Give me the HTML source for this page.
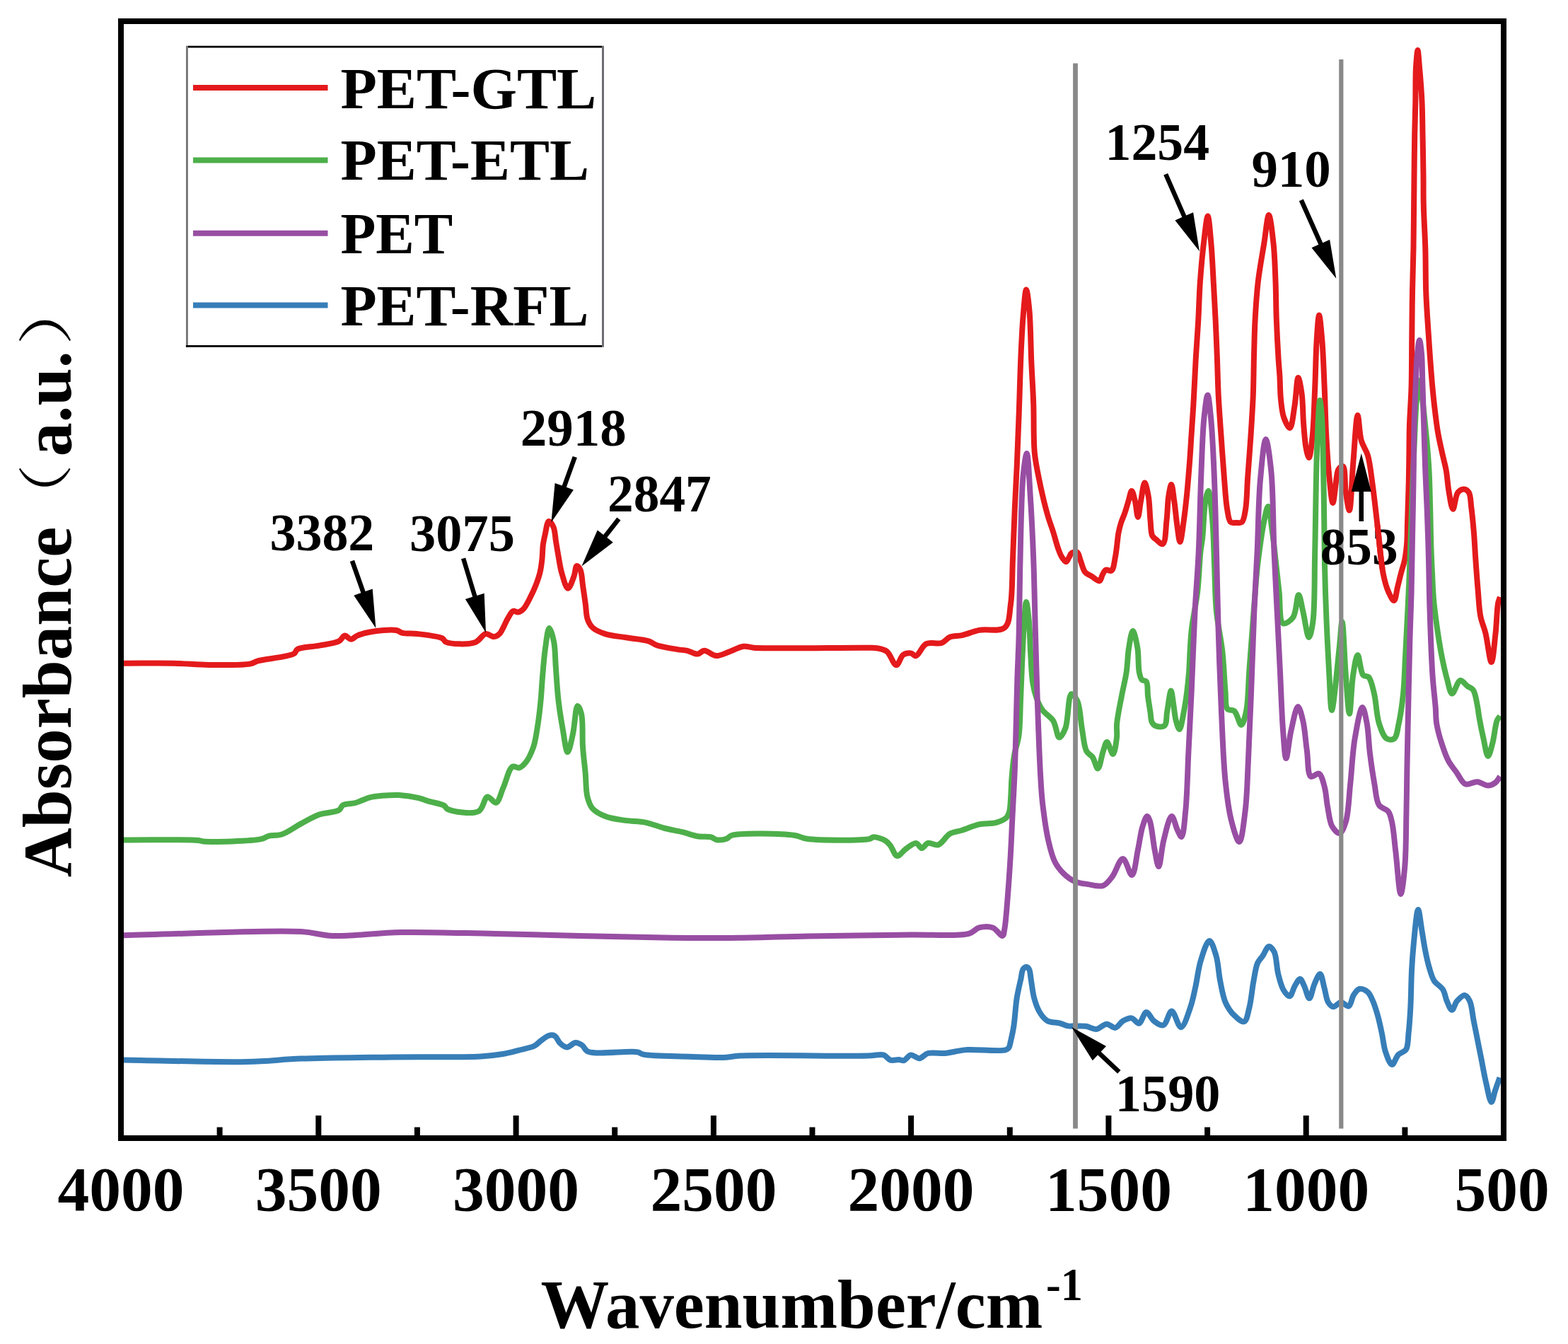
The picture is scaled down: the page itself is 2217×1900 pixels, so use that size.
<!DOCTYPE html>
<html><head><meta charset="utf-8"><title>FTIR spectra</title>
<style>html,body{margin:0;padding:0;background:#fff;}svg{display:block;}</style></head>
<body>
<svg width="2217" height="1900" viewBox="0 0 2217 1900">
<rect width="2217" height="1900" fill="#fff"/>
<path d="M175.0,937.7 C198.9,937.7 225.1,937.2 246.7,937.7 C264.5,938.1 278.3,939.8 295.3,940.0 C314.0,940.2 342.8,940.6 354.2,938.3 C359.1,937.3 359.6,935.8 364.4,934.4 C374.9,931.4 407.7,929.0 415.6,924.2 C418.7,922.3 417.8,919.5 420.7,917.8 C426.4,914.5 441.4,914.7 451.4,912.7 C461.0,910.8 473.3,909.7 479.5,906.3 C483.3,904.2 484.4,899.0 487.2,898.6 C490.0,898.2 493.2,903.7 496.2,903.7 C499.2,903.7 501.5,900.1 505.1,898.6 C509.9,896.6 515.9,894.7 523.0,893.5 C533.1,891.7 552.0,889.6 560.1,891.0 C564.2,891.7 565.4,893.9 569.1,894.8 C574.4,896.0 581.8,895.1 589.5,896.0 C599.8,897.2 619.1,899.1 625.4,902.4 C628.2,903.9 627.6,906.4 630.5,907.6 C637.4,910.6 661.4,911.7 671.4,908.3 C678.3,905.9 682.0,896.7 686.8,896.0 C690.4,895.5 694.5,899.6 697.0,900.0 C698.4,900.2 699.2,900.2 700.5,899.8 C702.3,899.2 704.3,898.2 706.3,896.1 C710.1,892.0 714.5,880.1 718.1,874.2 C720.7,870.0 722.6,865.0 725.4,863.9 C727.6,863.0 730.3,865.8 732.7,865.4 C735.2,865.0 737.7,863.4 740.0,861.0 C743.6,857.3 747.3,849.2 750.3,843.4 C753.1,838.0 755.4,832.8 757.6,827.3 C759.8,821.6 761.9,815.8 763.4,809.8 C764.9,803.6 765.7,797.2 766.4,790.7 C767.2,784.0 767.0,776.5 767.8,770.3 C768.5,765.0 769.5,760.8 770.7,755.6 C772.1,749.7 773.4,737.5 775.9,737.0 C777.7,736.6 780.9,741.4 782.5,745.0 C784.8,750.1 784.9,758.9 786.1,765.9 C787.3,773.1 788.5,780.5 789.8,787.8 C791.2,795.1 792.0,802.6 794.2,809.8 C796.4,817.2 799.9,831.6 803.0,831.7 C805.8,831.8 809.6,819.8 811.7,814.2 C813.5,809.3 813.5,800.5 815.4,800.0 C816.8,799.7 819.2,802.7 820.5,805.4 C822.9,810.3 823.0,820.9 824.2,828.8 C825.4,837.0 826.7,845.7 827.8,853.7 C828.9,861.2 828.6,869.6 830.8,875.6 C832.5,880.4 834.5,884.1 838.1,887.4 C842.3,891.3 848.8,893.9 855.6,896.1 C863.9,898.9 874.9,899.6 884.9,901.3 C895.4,903.1 909.2,903.9 917.1,906.4 C922.1,908.0 923.9,910.5 928.8,912.2 C936.2,914.7 950.2,916.8 958.1,918.1 C963.5,919.0 967.1,918.8 971.7,919.8 C976.5,920.9 981.9,924.9 986.2,924.6 C989.8,924.3 992.1,919.9 995.8,919.8 C1000.6,919.7 1006.8,926.8 1012.7,927.1 C1018.9,927.4 1025.6,923.2 1032.0,921.0 C1038.5,918.8 1045.3,914.5 1051.4,913.8 C1056.5,913.2 1058.4,915.2 1065.8,915.7 C1090.6,917.3 1204.3,915.2 1227.5,915.7 C1233.8,915.8 1235.4,915.4 1239.6,916.2 C1244.2,917.1 1249.7,917.8 1254.0,921.0 C1259.3,925.0 1263.2,940.3 1267.3,940.3 C1270.8,940.3 1273.1,928.5 1277.0,925.8 C1280.1,923.6 1284.6,923.0 1287.8,923.4 C1290.5,923.7 1292.5,927.6 1295.1,927.1 C1299.4,926.2 1303.5,913.2 1309.6,910.2 C1315.6,907.2 1325.4,911.1 1331.3,909.0 C1336.2,907.3 1338.7,902.3 1343.3,900.5 C1348.2,898.5 1354.1,899.4 1360.2,898.1 C1367.6,896.5 1375.4,892.7 1384.4,890.9 C1395.2,888.8 1413.2,893.6 1420.6,887.2 C1427.8,881.0 1427.1,867.1 1429.0,854.1 C1431.6,836.3 1431.0,811.8 1432.0,789.7 C1433.0,766.1 1433.9,739.6 1434.9,716.6 C1435.8,696.0 1436.9,678.6 1437.8,658.0 C1438.8,635.0 1439.8,610.4 1440.7,584.9 C1441.7,557.0 1442.5,522.2 1443.7,497.1 C1444.6,478.2 1445.3,462.7 1446.6,447.3 C1447.8,433.8 1449.4,409.5 1451.0,409.5 C1452.4,409.5 1454.3,426.6 1455.4,438.5 C1457.2,457.3 1457.3,488.7 1458.3,511.7 C1459.2,532.3 1460.5,549.8 1461.2,570.2 C1462.0,592.4 1461.0,621.0 1462.8,640.0 C1464.1,653.3 1466.2,662.6 1468.4,673.8 C1470.6,685.1 1473.3,697.2 1475.8,707.6 C1478.0,716.5 1480.1,724.6 1482.5,732.4 C1484.7,739.5 1487.1,745.7 1489.3,752.6 C1491.6,759.9 1493.8,768.8 1496.0,775.1 C1497.7,779.7 1498.9,783.7 1501.0,787.0 C1502.8,789.9 1505.5,794.4 1507.3,794.3 C1508.9,794.2 1510.2,790.1 1511.5,788.0 C1512.8,786.0 1513.4,783.1 1515.2,781.9 C1517.2,780.6 1521.1,779.6 1523.1,780.8 C1525.6,782.2 1526.0,787.9 1527.6,792.0 C1529.6,797.1 1531.1,805.1 1534.3,808.9 C1536.7,811.8 1540.1,812.6 1543.3,814.6 C1546.8,816.8 1552.0,822.1 1554.6,821.3 C1556.9,820.6 1557.4,814.7 1559.0,812.0 C1560.4,809.6 1561.5,806.5 1563.6,805.6 C1565.7,804.7 1569.4,808.1 1571.5,806.7 C1574.9,804.5 1575.5,794.1 1577.1,786.4 C1579.1,776.6 1579.9,761.3 1581.6,752.6 C1582.7,747.0 1583.6,743.6 1585.0,739.1 C1586.5,734.3 1588.9,729.5 1590.6,724.5 C1592.4,719.3 1593.8,713.8 1595.4,708.6 C1597.0,703.6 1598.5,694.0 1600.1,694.0 C1601.7,694.0 1603.5,703.2 1604.9,708.6 C1606.6,715.2 1607.6,731.0 1608.9,731.0 C1610.3,731.0 1611.5,716.3 1613.0,708.6 C1614.6,700.2 1616.5,682.6 1618.4,682.5 C1620.1,682.4 1622.5,694.5 1623.8,701.9 C1625.5,711.5 1625.5,725.7 1626.5,735.7 C1627.3,743.7 1627.0,752.7 1629.2,757.3 C1630.5,760.0 1632.4,760.9 1634.6,762.7 C1637.2,764.9 1641.7,770.0 1644.1,769.0 C1648.2,767.2 1648.2,746.9 1649.5,735.7 C1650.9,724.5 1650.7,711.2 1652.2,701.9 C1653.2,695.3 1654.9,685.0 1656.2,685.0 C1657.7,685.0 1659.0,700.0 1660.3,708.6 C1661.8,718.8 1662.8,732.2 1664.3,742.4 C1665.6,751.0 1666.9,766.0 1668.4,766.0 C1670.1,766.0 1672.3,746.1 1673.8,735.7 C1675.4,724.8 1676.5,714.1 1677.8,701.9 C1679.3,687.5 1680.7,669.8 1681.9,654.6 C1683.0,640.6 1683.7,627.6 1684.6,614.1 C1685.5,600.6 1686.4,588.7 1687.3,573.5 C1688.5,553.8 1689.6,527.2 1690.8,506.0 C1691.9,487.0 1693.3,470.0 1694.3,452.0 C1695.3,434.0 1695.6,416.0 1696.9,398.0 C1698.2,380.0 1699.9,360.5 1701.9,344.0 C1703.6,330.1 1705.9,305.5 1707.7,305.5 C1709.4,305.5 1711.1,330.1 1712.4,344.0 C1713.9,360.5 1714.7,380.0 1715.7,398.0 C1716.7,416.0 1717.7,434.3 1718.6,452.0 C1719.4,469.2 1720.1,485.6 1720.8,503.0 C1721.5,521.1 1721.8,539.8 1722.7,558.6 C1723.7,577.9 1725.2,597.6 1726.6,617.1 C1728.0,636.6 1729.4,657.6 1730.9,675.7 C1732.2,691.4 1733.0,708.3 1735.1,719.7 C1736.4,727.2 1736.9,735.3 1740.0,738.0 C1742.0,739.8 1745.3,739.0 1748.0,739.0 C1750.7,739.0 1753.9,739.8 1756.0,738.0 C1759.1,735.3 1759.8,727.2 1761.1,719.7 C1763.1,708.3 1763.0,691.4 1764.1,675.7 C1765.4,657.6 1767.1,636.6 1768.4,617.1 C1769.7,597.6 1771.0,577.9 1771.8,558.6 C1772.5,539.8 1772.5,521.1 1773.0,503.0 C1773.5,485.6 1773.7,469.2 1774.6,452.0 C1775.6,434.2 1776.7,416.0 1778.8,398.0 C1780.9,380.0 1784.6,360.6 1787.3,344.0 C1789.6,329.7 1791.8,304.0 1794.0,304.0 C1796.2,304.0 1798.9,329.6 1800.5,344.0 C1802.3,360.6 1802.8,380.0 1803.5,398.0 C1804.2,416.0 1804.1,434.0 1804.8,452.0 C1805.5,470.0 1806.6,491.4 1807.5,506.0 C1808.1,516.0 1808.8,522.3 1809.4,531.4 C1810.0,541.8 1809.9,554.7 1811.0,565.1 C1812.0,574.2 1812.7,583.4 1815.3,590.5 C1817.4,596.2 1821.4,605.4 1823.7,605.0 C1826.9,604.5 1828.6,584.7 1830.5,573.6 C1832.6,561.2 1833.5,534.1 1835.5,534.0 C1837.0,533.9 1839.4,547.9 1840.6,556.7 C1842.3,568.5 1842.0,585.6 1843.1,598.9 C1844.1,610.8 1844.8,623.9 1846.5,632.7 C1847.6,638.5 1849.4,647.1 1850.7,647.0 C1852.6,646.9 1854.5,628.2 1855.8,615.8 C1857.7,597.6 1858.2,570.7 1859.2,548.2 C1860.2,525.7 1860.4,499.6 1861.7,480.7 C1862.6,467.1 1863.8,445.5 1865.1,445.5 C1866.4,445.5 1868.1,467.1 1869.3,480.7 C1870.9,499.5 1871.7,525.7 1872.7,548.2 C1873.7,570.7 1874.0,594.0 1875.2,615.8 C1876.3,636.2 1877.7,657.6 1879.5,674.9 C1880.9,688.4 1882.7,711.0 1884.5,711.0 C1886.5,711.0 1889.0,673.7 1891.3,666.5 C1892.1,664.0 1892.5,663.0 1893.7,661.8 C1895.0,660.5 1897.5,658.4 1898.9,659.2 C1902.4,661.1 1901.1,684.5 1902.8,695.5 C1904.2,704.9 1906.4,721.5 1907.9,721.4 C1910.2,721.3 1911.2,678.6 1913.1,656.6 C1915.1,633.8 1917.3,587.1 1919.6,587.0 C1921.3,587.0 1921.9,612.7 1924.8,622.9 C1927.1,631.0 1931.5,635.5 1933.9,643.7 C1937.1,654.5 1938.2,667.9 1940.3,682.5 C1943.0,701.3 1945.5,725.7 1948.1,747.3 C1950.7,768.9 1952.4,795.5 1955.9,812.1 C1958.1,822.8 1960.6,831.4 1963.7,838.0 C1965.9,842.6 1969.0,849.3 1971.0,849.0 C1973.4,848.6 1974.4,836.4 1976.0,830.0 C1977.7,823.4 1979.3,816.5 1981.0,810.0 C1982.6,803.8 1984.7,798.3 1986.0,792.0 C1987.4,785.1 1988.3,777.9 1989.0,770.0 C1989.8,760.8 1989.7,749.0 1990.0,740.0 C1990.2,732.7 1990.4,727.8 1990.6,720.0 C1990.9,709.0 1991.5,693.3 1991.8,680.0 C1992.1,666.7 1992.2,653.3 1992.4,640.0 C1992.6,626.7 1992.5,614.1 1993.0,600.0 C1993.5,584.0 1994.9,567.7 1995.5,549.0 C1996.2,526.2 1996.0,496.9 1996.3,473.0 C1996.5,451.6 1996.6,432.4 1997.0,412.0 C1997.4,391.4 1998.2,369.6 1998.5,350.0 C1998.8,332.4 1998.8,316.7 1999.0,300.0 C1999.2,283.1 1999.3,266.6 1999.5,249.0 C1999.7,230.0 1999.9,208.4 2000.2,190.0 C2000.5,173.7 2001.0,159.6 2001.3,144.0 C2001.6,127.9 2001.2,108.4 2002.0,95.0 C2002.6,85.6 2003.7,71.0 2004.5,71.0 C2005.3,71.0 2006.2,85.6 2007.0,95.0 C2008.2,108.4 2009.8,127.9 2010.5,144.0 C2011.2,159.6 2011.2,173.7 2011.5,190.0 C2011.9,208.4 2012.3,231.1 2012.5,249.0 C2012.7,263.9 2012.4,275.0 2012.8,290.0 C2013.2,308.3 2014.7,330.7 2015.3,351.0 C2015.9,371.3 2015.5,391.7 2016.2,412.0 C2016.9,432.3 2018.4,452.2 2019.8,473.0 C2021.2,494.8 2023.1,521.2 2024.7,540.0 C2025.9,553.7 2026.9,563.7 2028.3,575.5 C2029.7,587.3 2031.1,599.9 2033.0,611.0 C2034.7,621.0 2036.9,630.2 2038.9,639.4 C2040.8,648.3 2043.2,656.5 2044.8,665.4 C2046.4,674.6 2046.8,684.6 2048.4,693.8 C2050.0,702.7 2052.1,719.7 2054.3,719.8 C2056.4,719.9 2057.7,700.7 2061.4,696.1 C2063.7,693.3 2067.1,691.3 2069.7,691.4 C2072.2,691.5 2075.1,693.4 2076.8,696.1 C2079.6,700.4 2079.2,709.4 2080.3,717.4 C2081.7,727.7 2082.9,741.1 2083.9,752.9 C2084.9,764.7 2085.3,775.7 2086.2,788.4 C2087.2,803.0 2088.5,821.1 2089.8,835.7 C2090.9,848.4 2091.2,860.6 2093.3,871.2 C2095.0,880.0 2098.1,885.9 2100.4,894.9 C2103.3,906.7 2106.3,936.1 2108.7,936.0 C2111.1,935.9 2113.0,908.7 2114.6,894.9 C2116.2,880.9 2116.4,860.9 2118.2,852.3 C2119.0,848.4 2120.1,846.8 2121.0,844.0" fill="none" stroke="#E41A1C" stroke-width="8" stroke-linejoin="round"/>
<path d="M175.0,1187.4 C210.0,1187.6 265.1,1186.5 280.0,1188.0 C284.1,1188.4 283.7,1189.2 287.7,1189.5 C300.5,1190.5 355.4,1189.4 369.5,1186.2 C374.7,1185.0 375.8,1182.9 379.8,1181.8 C384.9,1180.5 391.3,1181.8 397.7,1179.8 C406.3,1177.1 416.6,1169.2 425.8,1164.4 C434.5,1159.8 442.5,1154.8 451.4,1151.6 C460.4,1148.4 474.1,1148.7 479.5,1145.2 C482.4,1143.3 482.0,1140.0 484.7,1138.3 C488.6,1135.9 496.5,1136.7 502.6,1135.0 C509.3,1133.1 516.3,1129.0 523.0,1127.3 C529.1,1125.8 534.5,1125.4 540.9,1124.8 C548.1,1124.2 555.9,1123.6 564.0,1124.0 C572.9,1124.5 584.6,1126.3 592.1,1128.1 C597.3,1129.3 600.0,1130.9 604.9,1132.4 C611.4,1134.4 623.2,1136.0 627.9,1138.8 C630.5,1140.3 630.1,1142.7 633.0,1144.0 C640.2,1147.3 667.0,1151.8 676.5,1147.0 C683.6,1143.4 684.5,1127.4 689.3,1126.4 C693.0,1125.6 698.0,1135.7 701.4,1134.8 C705.8,1133.6 708.1,1121.1 711.6,1113.4 C715.7,1104.3 719.4,1086.5 724.6,1083.7 C727.4,1082.2 731.0,1086.2 733.9,1085.5 C737.2,1084.7 740.3,1081.7 743.2,1078.1 C747.4,1073.0 751.5,1063.8 754.3,1055.8 C757.2,1047.2 758.3,1037.9 759.9,1027.9 C761.8,1016.4 763.3,1003.2 764.5,990.8 C765.7,978.4 766.2,966.0 767.3,953.6 C768.4,941.2 769.3,928.0 771.0,916.5 C772.5,906.3 774.3,888.2 776.6,888.0 C778.5,887.9 781.6,899.6 783.1,907.2 C785.2,917.4 784.9,931.2 785.9,944.3 C787.0,958.9 787.9,976.2 789.6,990.8 C791.1,1003.9 793.0,1015.7 795.2,1027.9 C797.4,1039.8 799.9,1063.1 802.6,1063.2 C804.9,1063.3 807.9,1046.8 810.1,1037.2 C812.7,1025.5 813.7,998.4 816.6,998.0 C818.2,997.8 820.8,1004.1 822.1,1009.4 C824.6,1019.5 823.0,1041.2 824.0,1055.8 C824.9,1068.9 826.6,1080.9 827.7,1093.0 C828.7,1104.4 828.2,1117.3 830.5,1126.4 C832.2,1133.1 833.9,1138.6 837.9,1143.1 C842.3,1148.1 849.4,1151.5 856.5,1154.3 C864.6,1157.5 875.1,1158.5 884.4,1159.9 C893.7,1161.3 903.1,1160.8 912.3,1162.6 C921.7,1164.4 931.1,1168.7 940.1,1171.0 C948.5,1173.1 956.6,1174.3 964.5,1176.2 C972.0,1178.0 979.1,1181.0 986.2,1182.2 C992.8,1183.3 1000.7,1182.1 1005.5,1183.4 C1008.6,1184.3 1009.8,1186.5 1012.7,1187.1 C1016.6,1187.9 1023.3,1187.2 1027.2,1185.8 C1030.2,1184.8 1030.4,1182.2 1034.5,1181.0 C1047.5,1177.1 1105.8,1178.5 1123.7,1181.0 C1131.7,1182.1 1132.6,1184.7 1140.6,1185.8 C1158.5,1188.3 1218.8,1188.4 1229.9,1185.8 C1232.6,1185.2 1232.6,1183.6 1234.7,1183.4 C1238.6,1183.0 1247.4,1185.8 1251.6,1188.3 C1254.8,1190.2 1256.5,1192.5 1258.9,1195.5 C1262.1,1199.4 1264.7,1209.4 1268.5,1210.0 C1272.0,1210.6 1276.3,1203.3 1280.6,1200.3 C1285.1,1197.2 1291.0,1191.5 1295.1,1191.9 C1298.4,1192.2 1300.7,1199.1 1303.5,1199.1 C1306.3,1199.1 1308.5,1192.9 1312.0,1191.9 C1316.0,1190.8 1321.7,1195.7 1326.4,1194.3 C1332.3,1192.5 1337.2,1182.0 1343.3,1178.6 C1348.6,1175.6 1354.1,1175.7 1360.2,1173.8 C1367.6,1171.5 1376.2,1167.1 1384.4,1165.3 C1392.3,1163.5 1401.7,1164.8 1408.5,1162.9 C1414.0,1161.3 1419.7,1159.0 1422.8,1156.0 C1425.1,1153.7 1426.0,1151.3 1427.0,1148.0 C1428.4,1143.3 1428.5,1136.8 1429.0,1130.0 C1429.7,1121.3 1429.7,1110.1 1430.5,1100.0 C1431.3,1089.5 1432.3,1078.3 1434.0,1068.0 C1435.6,1058.3 1439.0,1050.8 1440.5,1040.0 C1442.5,1025.8 1442.2,1006.7 1443.0,990.0 C1443.7,973.3 1444.3,956.7 1445.0,940.0 C1445.8,923.3 1446.4,905.6 1447.5,890.0 C1448.5,876.2 1449.6,851.0 1451.0,851.0 C1452.2,851.0 1454.0,869.4 1455.0,880.0 C1456.2,892.9 1456.2,908.5 1457.1,922.8 C1458.0,937.1 1458.4,953.8 1460.3,965.6 C1461.6,974.0 1463.2,980.4 1465.6,987.0 C1467.9,993.2 1470.4,998.9 1474.2,1004.1 C1478.2,1009.6 1485.3,1013.0 1489.2,1019.1 C1493.4,1025.7 1494.4,1042.2 1497.7,1042.6 C1500.3,1042.9 1503.9,1035.8 1506.3,1029.8 C1510.6,1019.1 1510.2,982.2 1514.8,981.0 C1517.2,980.4 1521.1,986.4 1523.4,991.3 C1527.3,999.7 1527.6,1017.6 1529.8,1029.8 C1531.8,1041.0 1532.5,1055.0 1536.2,1061.9 C1538.5,1066.1 1542.3,1066.8 1544.8,1070.4 C1547.8,1074.7 1550.0,1086.7 1552.3,1086.5 C1555.1,1086.3 1557.4,1068.7 1559.8,1061.9 C1561.6,1056.9 1563.0,1049.1 1565.1,1049.0 C1567.5,1048.9 1571.4,1066.4 1573.7,1066.1 C1576.2,1065.8 1578.1,1050.1 1579.0,1042.6 C1579.8,1035.9 1578.4,1030.8 1579.1,1023.3 C1580.1,1012.5 1583.5,996.5 1585.9,983.9 C1588.1,972.2 1591.0,961.3 1592.7,950.0 C1594.4,938.8 1594.3,926.6 1596.0,916.3 C1597.5,907.5 1599.6,892.0 1601.7,892.0 C1603.8,892.0 1606.9,907.5 1608.4,916.3 C1610.1,926.5 1609.1,941.9 1610.7,950.0 C1611.7,954.7 1612.4,958.8 1614.5,961.0 C1616.1,962.7 1619.3,961.6 1620.8,963.6 C1623.4,967.0 1622.1,977.0 1623.0,983.9 C1623.9,991.2 1625.4,999.7 1626.4,1006.4 C1627.2,1011.8 1627.0,1017.6 1628.7,1021.0 C1629.9,1023.3 1631.2,1025.0 1633.5,1026.0 C1636.6,1027.3 1643.7,1028.4 1646.5,1026.0 C1650.0,1023.1 1648.8,1013.6 1650.1,1006.4 C1651.8,997.5 1654.1,976.5 1655.7,976.5 C1657.0,976.5 1658.0,988.6 1659.1,995.1 C1660.3,1002.3 1660.8,1011.2 1662.5,1017.7 C1663.8,1022.8 1666.0,1031.1 1667.6,1031.0 C1669.8,1030.9 1672.1,1014.9 1673.8,1006.4 C1675.6,997.4 1677.0,987.7 1678.2,978.3 C1679.4,968.9 1680.3,959.9 1681.1,950.0 C1681.9,939.3 1682.1,927.0 1682.8,916.3 C1683.4,906.5 1683.7,899.0 1685.0,888.2 C1686.7,873.5 1691.1,854.0 1693.2,836.3 C1695.3,818.0 1695.9,794.0 1697.4,780.0 C1698.3,771.6 1699.3,768.2 1700.2,760.0 C1701.7,746.7 1702.2,719.8 1704.4,708.0 C1705.6,701.8 1707.3,693.9 1708.6,694.0 C1710.8,694.2 1712.9,720.6 1714.3,736.1 C1716.0,755.1 1716.2,778.4 1717.1,799.7 C1718.0,821.2 1717.9,843.6 1719.9,864.4 C1721.8,883.9 1726.2,901.9 1728.3,920.7 C1730.4,939.4 1731.1,961.9 1732.5,977.0 C1733.5,987.1 1731.9,998.1 1735.4,1002.3 C1737.6,1004.9 1742.3,1002.7 1745.2,1005.1 C1749.4,1008.6 1752.3,1025.0 1755.1,1024.8 C1757.9,1024.6 1760.3,1013.5 1762.1,1005.1 C1765.0,991.3 1764.9,967.6 1766.3,948.8 C1767.7,930.0 1769.1,911.3 1770.5,892.5 C1771.9,873.8 1773.4,853.0 1774.8,836.3 C1775.9,822.9 1776.4,813.8 1778.0,800.0 C1780.2,781.7 1784.2,751.3 1787.4,736.1 C1789.2,727.4 1791.3,715.9 1793.0,716.0 C1795.2,716.1 1796.9,737.7 1798.7,750.2 C1800.8,765.2 1802.8,784.7 1804.5,800.0 C1806.0,813.1 1807.0,823.6 1808.5,836.3 C1810.2,850.5 1808.5,878.6 1814.1,881.3 C1817.5,882.9 1824.7,877.7 1828.2,872.9 C1833.2,866.2 1833.6,841.0 1836.1,841.0 C1838.3,841.0 1840.2,855.7 1842.3,864.4 C1845.0,875.2 1848.1,901.0 1850.7,901.0 C1852.7,901.0 1855.0,888.8 1856.4,878.5 C1859.3,857.4 1858.3,815.9 1859.2,780.0 C1860.2,736.9 1860.5,677.0 1862.0,637.6 C1863.1,609.7 1864.7,566.0 1866.2,566.0 C1867.1,566.0 1868.3,580.3 1869.1,591.8 C1870.7,614.8 1871.0,660.9 1871.7,695.5 C1872.3,730.0 1872.3,767.0 1873.0,799.1 C1873.6,826.9 1874.4,851.0 1875.5,876.9 C1876.6,902.8 1878.0,931.6 1879.4,954.6 C1880.5,972.9 1881.2,1004.0 1883.0,1004.0 C1885.4,1004.1 1891.1,938.8 1893.7,915.7 C1895.4,900.8 1896.3,879.0 1897.6,879.0 C1899.4,879.0 1900.9,931.5 1902.8,954.6 C1904.4,974.2 1906.3,1009.0 1908.0,1009.0 C1909.7,1009.0 1910.7,969.8 1913.1,954.6 C1914.9,943.5 1917.2,926.1 1919.6,926.0 C1922.0,925.9 1923.3,950.2 1927.4,954.6 C1929.6,956.9 1932.9,955.0 1935.1,957.2 C1938.9,961.0 1940.7,971.5 1942.9,980.5 C1945.9,992.4 1946.2,1011.3 1949.9,1022.8 C1952.7,1031.4 1956.0,1041.3 1960.6,1044.2 C1963.7,1046.1 1968.6,1046.2 1971.3,1044.2 C1975.2,1041.3 1975.8,1031.2 1977.7,1022.8 C1980.3,1011.1 1982.6,994.9 1984.1,980.0 C1985.8,963.7 1985.9,948.8 1987.0,928.7 C1988.5,900.2 1990.7,859.6 1992.2,825.0 C1993.7,790.5 1994.7,755.7 1996.0,721.4 C1997.3,687.4 1998.7,648.7 2000.0,620.0 C2001.0,598.9 2001.5,580.1 2003.0,565.0 C2004.1,554.4 2005.7,538.0 2007.0,538.0 C2008.2,538.0 2009.4,552.1 2010.5,560.0 C2011.8,569.2 2012.9,579.6 2014.0,590.0 C2015.2,601.2 2016.4,612.9 2017.5,625.0 C2018.6,637.9 2019.7,650.6 2020.5,665.0 C2021.4,681.9 2021.7,701.6 2022.2,720.0 C2022.7,738.6 2022.9,759.7 2023.5,776.0 C2023.9,788.7 2024.4,798.4 2025.0,810.0 C2025.6,822.1 2025.8,833.9 2027.0,847.0 C2028.3,862.0 2030.8,880.3 2033.0,895.0 C2034.9,907.6 2036.7,918.8 2039.0,930.0 C2041.1,940.4 2043.4,951.0 2046.0,960.0 C2048.2,967.5 2050.0,980.1 2053.1,980.5 C2056.2,980.9 2060.5,962.7 2064.7,962.0 C2068.0,961.4 2071.8,967.9 2075.1,970.2 C2077.8,972.2 2080.8,972.4 2082.9,975.3 C2086.4,980.2 2087.9,993.2 2089.3,1000.0 C2090.3,1004.7 2090.2,1007.1 2091.1,1012.1 C2092.5,1020.3 2095.2,1034.2 2097.5,1044.2 C2099.5,1053.0 2101.6,1068.9 2103.9,1069.0 C2105.9,1069.1 2108.4,1057.7 2110.3,1050.6 C2112.8,1041.5 2114.0,1025.0 2116.7,1018.5 C2118.0,1015.4 2119.6,1014.2 2121.0,1012.1" fill="none" stroke="#4DAF4A" stroke-width="8" stroke-linejoin="round"/>
<path d="M175.0,1322.2 C258.7,1320.5 376.7,1314.2 426.0,1317.0 C446.7,1318.2 452.4,1322.3 470.0,1323.0 C496.0,1324.1 532.1,1318.6 567.0,1318.0 C607.8,1317.3 648.7,1319.0 700.0,1320.0 C770.3,1321.3 886.1,1325.1 950.0,1325.8 C989.7,1326.3 1014.3,1326.2 1046.5,1325.8 C1078.7,1325.4 1107.6,1324.1 1143.0,1323.4 C1186.4,1322.6 1246.3,1322.2 1287.8,1321.5 C1319.0,1321.0 1354.0,1324.2 1369.9,1319.8 C1377.1,1317.8 1379.0,1312.8 1384.4,1311.4 C1390.2,1309.8 1398.1,1309.4 1403.7,1311.4 C1409.1,1313.4 1414.8,1323.8 1417.5,1323.0 C1419.5,1322.4 1419.4,1318.1 1420.3,1313.6 C1422.3,1303.1 1424.0,1277.3 1425.4,1259.6 C1426.8,1242.5 1427.8,1225.9 1428.8,1209.0 C1429.8,1192.0 1430.4,1176.2 1431.3,1158.0 C1432.3,1137.1 1433.9,1111.2 1434.7,1090.7 C1435.4,1073.4 1435.7,1061.0 1436.2,1043.0 C1436.9,1019.5 1437.5,987.3 1438.3,961.7 C1439.0,938.7 1440.1,920.0 1440.7,896.3 C1441.4,868.2 1441.4,837.7 1442.2,804.3 C1443.2,764.3 1443.8,701.5 1446.6,672.7 C1448.0,658.5 1450.3,640.9 1451.8,641.0 C1453.9,641.1 1455.3,679.7 1456.8,701.9 C1458.6,728.5 1460.0,758.8 1461.2,789.7 C1462.5,824.3 1463.1,865.2 1464.1,899.8 C1465.0,930.6 1465.6,956.5 1466.7,987.0 C1467.9,1020.8 1469.4,1066.4 1471.0,1094.0 C1472.0,1111.5 1472.4,1121.7 1474.2,1136.7 C1476.2,1153.6 1479.2,1175.4 1482.7,1190.2 C1485.2,1201.1 1487.3,1210.1 1491.3,1218.0 C1494.7,1224.8 1499.2,1230.4 1504.1,1235.2 C1508.6,1239.6 1513.5,1243.4 1519.1,1245.9 C1524.9,1248.5 1531.8,1249.1 1538.4,1250.1 C1545.3,1251.2 1554.0,1254.1 1559.8,1252.0 C1565.1,1250.1 1568.5,1244.7 1572.6,1239.4 C1577.9,1232.7 1582.8,1213.9 1587.6,1214.0 C1592.1,1214.1 1597.0,1237.5 1600.4,1237.0 C1604.5,1236.4 1606.4,1212.6 1609.0,1200.9 C1611.4,1189.9 1612.7,1177.3 1615.4,1168.8 C1617.3,1162.8 1619.8,1154.2 1621.8,1154.0 C1623.1,1153.9 1624.4,1156.9 1625.6,1159.9 C1628.5,1167.4 1630.3,1190.1 1632.7,1202.0 C1634.5,1210.9 1636.4,1225.0 1638.3,1225.0 C1640.6,1224.9 1642.2,1200.0 1645.3,1188.0 C1648.3,1176.3 1652.9,1154.1 1656.6,1154.0 C1659.5,1153.9 1662.3,1168.6 1665.0,1173.9 C1666.9,1177.6 1669.0,1183.3 1670.6,1183.0 C1673.5,1182.4 1674.8,1160.8 1676.3,1145.8 C1678.6,1123.4 1679.1,1089.5 1680.5,1061.4 C1681.9,1033.3 1683.3,1007.2 1684.7,977.0 C1686.3,942.2 1687.7,898.9 1689.5,864.4 C1691.0,835.1 1693.2,812.6 1694.6,783.0 C1696.3,747.5 1697.0,700.6 1698.5,665.8 C1699.7,637.8 1700.4,609.8 1702.5,590.0 C1703.9,577.2 1705.9,558.5 1707.5,558.5 C1709.1,558.5 1710.7,577.2 1712.0,590.0 C1714.0,609.8 1715.3,637.8 1716.5,665.8 C1718.1,700.6 1719.0,744.6 1720.0,783.0 C1721.0,820.1 1721.6,855.7 1722.7,892.5 C1723.9,929.8 1725.2,968.8 1726.9,1005.1 C1728.5,1039.0 1729.6,1075.4 1732.5,1103.6 C1734.7,1125.0 1736.9,1144.2 1741.0,1159.9 C1744.0,1171.7 1749.1,1190.3 1752.2,1190.0 C1755.9,1189.7 1758.6,1162.3 1760.7,1145.8 C1763.3,1125.1 1763.6,1100.8 1764.9,1075.4 C1766.4,1045.3 1767.7,1010.9 1769.1,977.0 C1770.6,940.7 1771.8,899.2 1773.3,864.4 C1774.6,834.2 1776.2,809.3 1777.6,780.0 C1779.1,748.1 1779.3,708.8 1781.8,679.9 C1783.8,657.6 1786.9,621.0 1789.7,621.0 C1792.1,621.0 1795.4,647.4 1797.3,665.8 C1800.3,695.0 1800.0,744.8 1801.5,780.0 C1802.8,810.3 1804.3,836.3 1805.7,864.4 C1807.1,892.5 1808.5,920.7 1809.9,948.8 C1811.3,976.9 1812.3,1010.5 1814.1,1033.2 C1815.3,1048.6 1816.5,1071.9 1818.4,1072.0 C1820.3,1072.1 1822.5,1045.7 1825.4,1033.2 C1828.2,1021.4 1832.1,999.1 1835.2,999.0 C1837.6,998.9 1840.4,1011.1 1842.3,1019.2 C1845.0,1030.6 1846.0,1047.9 1847.9,1061.4 C1849.7,1074.0 1848.6,1095.0 1853.5,1097.9 C1856.3,1099.5 1861.8,1092.4 1864.8,1093.7 C1868.7,1095.4 1870.8,1105.5 1872.8,1112.6 C1875.1,1120.9 1875.3,1131.2 1877.1,1140.5 C1878.9,1149.8 1879.7,1161.8 1883.5,1168.3 C1886.2,1172.9 1891.1,1178.5 1894.2,1178.0 C1897.7,1177.4 1900.5,1169.1 1902.8,1161.9 C1906.7,1149.5 1907.2,1127.1 1909.2,1108.4 C1911.4,1088.0 1912.3,1063.5 1915.6,1044.2 C1918.4,1028.0 1923.1,1000.1 1926.3,1000.0 C1928.6,1000.0 1931.0,1013.9 1932.7,1022.8 C1935.0,1034.8 1935.2,1051.4 1937.0,1065.6 C1938.8,1079.9 1941.0,1095.4 1943.4,1108.4 C1945.4,1119.3 1945.5,1131.8 1949.9,1138.3 C1953.0,1142.9 1959.7,1143.0 1962.7,1146.9 C1965.8,1150.8 1966.5,1155.5 1968.0,1161.9 C1970.5,1172.4 1971.5,1189.2 1973.4,1204.6 C1975.6,1222.8 1978.1,1264.0 1980.5,1264.0 C1982.4,1264.0 1984.9,1240.8 1986.2,1226.0 C1988.1,1205.3 1987.9,1175.2 1988.4,1151.2 C1988.9,1129.0 1989.0,1111.1 1989.4,1087.0 C1990.0,1055.9 1990.9,1013.1 1991.6,980.0 C1992.2,951.4 1992.8,924.8 1993.5,900.0 C1994.1,878.6 1994.9,861.4 1995.5,840.0 C1996.1,815.3 1996.5,786.7 1997.0,760.0 C1997.5,733.3 1998.1,706.7 1998.5,680.0 C1998.9,653.3 1998.9,624.7 1999.5,600.0 C2000.0,578.6 2001.0,558.0 2001.8,540.0 C2002.5,525.3 2002.8,510.9 2004.0,500.0 C2004.8,492.5 2006.0,481.0 2007.0,481.0 C2008.0,481.0 2009.3,492.5 2010.0,500.0 C2011.0,510.9 2010.8,525.3 2011.3,540.0 C2011.9,558.2 2012.5,580.3 2013.2,601.0 C2013.9,622.3 2014.5,645.3 2015.3,666.0 C2016.0,684.8 2017.0,700.7 2017.7,720.0 C2018.6,742.3 2019.4,768.3 2020.0,792.0 C2020.6,815.0 2020.7,835.4 2021.5,860.0 C2022.4,889.0 2023.8,929.2 2025.5,955.0 C2026.7,972.8 2028.7,987.5 2029.7,1000.0 C2030.4,1008.9 2029.9,1014.6 2031.2,1022.8 C2032.8,1032.7 2036.5,1045.4 2039.7,1054.9 C2042.3,1062.8 2044.8,1070.0 2048.3,1076.3 C2051.4,1081.9 2055.2,1086.2 2059.0,1091.3 C2063.0,1096.8 2066.5,1106.3 2071.8,1108.4 C2076.6,1110.3 2083.4,1104.8 2088.9,1105.2 C2094.1,1105.6 2099.3,1110.6 2103.9,1110.5 C2107.8,1110.4 2111.7,1108.4 2114.6,1106.2 C2117.4,1104.1 2118.9,1100.5 2121.0,1097.7" fill="none" stroke="#984EA3" stroke-width="8" stroke-linejoin="round"/>
<path d="M175.0,1498.4 C233.0,1499.3 302.7,1502.0 349.0,1501.0 C379.8,1500.4 397.1,1497.7 426.0,1496.6 C463.3,1495.2 511.5,1495.0 554.0,1494.5 C596.2,1494.0 652.1,1495.0 680.0,1493.4 C693.9,1492.6 701.6,1491.6 711.1,1490.0 C719.4,1488.6 726.6,1486.5 734.1,1484.6 C741.4,1482.7 750.2,1481.3 755.7,1478.5 C759.7,1476.4 761.8,1473.5 765.1,1471.1 C768.5,1468.6 772.4,1465.0 775.9,1464.0 C778.7,1463.2 781.6,1463.0 784.1,1464.3 C787.3,1465.9 789.1,1472.3 792.2,1475.1 C795.0,1477.6 798.2,1480.4 801.6,1480.5 C805.4,1480.6 810.0,1474.2 813.8,1474.0 C817.1,1473.8 820.4,1475.9 823.2,1477.8 C826.3,1479.9 826.6,1484.5 831.4,1486.6 C842.9,1491.7 889.8,1484.9 901.6,1487.3 C905.8,1488.2 905.6,1489.8 909.7,1490.7 C920.8,1493.2 954.2,1493.1 974.1,1493.8 C991.4,1494.4 1009.1,1495.5 1022.4,1495.0 C1031.8,1494.6 1034.7,1493.2 1046.5,1492.6 C1078.7,1491.0 1196.5,1493.5 1227.5,1492.6 C1238.3,1492.3 1243.6,1489.7 1249.2,1491.4 C1253.4,1492.6 1255.3,1497.5 1258.9,1498.6 C1262.5,1499.7 1267.5,1497.9 1271.0,1498.1 C1273.7,1498.2 1275.8,1499.8 1278.2,1499.1 C1281.4,1498.2 1284.2,1491.9 1287.8,1491.4 C1291.5,1490.9 1295.9,1496.5 1299.9,1496.2 C1304.0,1495.9 1307.1,1490.4 1312.0,1489.0 C1318.5,1487.2 1329.1,1489.6 1336.1,1489.0 C1341.6,1488.5 1345.6,1487.3 1350.6,1486.5 C1356.0,1485.6 1360.2,1484.6 1367.5,1484.1 C1380.5,1483.2 1414.0,1486.9 1422.0,1484.3 C1424.5,1483.5 1425.4,1482.6 1426.5,1481.0 C1428.0,1478.9 1428.1,1475.6 1429.0,1472.0 C1430.3,1466.5 1432.0,1459.2 1433.3,1451.0 C1435.1,1439.8 1435.8,1422.9 1437.7,1411.0 C1439.3,1401.2 1441.6,1391.9 1443.3,1384.4 C1444.5,1378.9 1444.7,1372.8 1446.6,1370.0 C1447.8,1368.3 1449.6,1367.0 1451.0,1367.0 C1452.4,1367.0 1454.0,1368.3 1455.0,1370.0 C1456.8,1372.9 1456.7,1378.9 1457.7,1384.4 C1459.0,1391.9 1460.0,1402.9 1462.2,1411.0 C1464.2,1418.3 1466.6,1425.4 1470.0,1431.0 C1473.0,1435.9 1476.4,1440.6 1481.0,1443.2 C1485.9,1445.9 1493.6,1445.2 1498.8,1446.6 C1503.0,1447.7 1506.4,1449.8 1510.0,1450.4 C1513.1,1450.9 1515.4,1450.5 1518.8,1450.5 C1523.5,1450.6 1530.1,1450.0 1535.4,1450.8 C1540.5,1451.6 1545.2,1455.4 1550.0,1455.0 C1555.0,1454.5 1559.9,1447.9 1564.6,1447.7 C1568.9,1447.6 1573.3,1453.6 1577.1,1452.9 C1581.0,1452.2 1583.6,1445.8 1587.5,1443.5 C1591.3,1441.3 1596.2,1438.8 1600.0,1439.4 C1603.8,1440.0 1607.2,1447.3 1610.4,1446.7 C1614.3,1446.0 1617.1,1431.2 1620.8,1431.0 C1624.2,1430.8 1627.5,1440.4 1631.7,1443.5 C1635.6,1446.4 1641.1,1450.5 1644.9,1449.3 C1649.7,1447.8 1652.6,1429.6 1656.6,1429.6 C1660.9,1429.6 1665.6,1452.4 1669.8,1452.2 C1674.4,1452.0 1679.6,1434.0 1683.0,1424.4 C1686.4,1414.9 1688.0,1405.5 1690.3,1395.2 C1692.9,1383.7 1694.1,1369.9 1697.6,1358.6 C1700.8,1348.3 1706.1,1330.0 1710.0,1330.0 C1713.4,1330.0 1717.0,1343.0 1719.5,1351.2 C1722.6,1361.6 1723.0,1376.3 1725.4,1387.8 C1727.5,1398.2 1729.1,1408.8 1732.7,1417.1 C1735.8,1424.0 1739.7,1430.1 1744.4,1434.7 C1748.7,1438.9 1755.5,1445.4 1759.1,1444.2 C1763.1,1442.9 1764.4,1432.1 1766.4,1424.4 C1769.1,1414.2 1770.2,1399.0 1772.3,1387.8 C1774.1,1378.3 1775.2,1368.0 1778.1,1361.5 C1780.1,1357.0 1782.9,1354.9 1785.4,1351.2 C1788.2,1347.1 1791.2,1338.3 1794.2,1338.0 C1796.6,1337.8 1799.5,1341.6 1801.5,1345.4 C1805.0,1352.1 1804.9,1368.0 1807.4,1377.6 C1809.5,1385.7 1811.4,1394.1 1814.7,1399.5 C1817.1,1403.5 1820.9,1408.7 1823.5,1408.3 C1826.4,1407.8 1828.2,1398.0 1830.8,1393.7 C1833.1,1390.0 1835.9,1383.9 1838.1,1384.0 C1840.3,1384.1 1842.1,1389.9 1844.0,1393.7 C1846.5,1398.6 1848.9,1411.4 1851.3,1411.3 C1853.8,1411.2 1855.8,1396.9 1858.6,1390.8 C1861.0,1385.6 1864.3,1376.7 1866.5,1377.0 C1869.1,1377.3 1870.7,1390.5 1872.6,1397.2 C1874.5,1403.8 1875.2,1412.5 1878.0,1417.0 C1879.9,1420.1 1882.5,1423.0 1885.2,1423.3 C1888.3,1423.6 1892.4,1417.1 1896.0,1417.0 C1899.6,1416.9 1904.0,1423.4 1906.9,1422.4 C1910.4,1421.1 1911.2,1410.5 1914.1,1406.2 C1916.5,1402.7 1919.0,1398.7 1922.2,1398.0 C1925.5,1397.3 1930.8,1399.9 1933.9,1402.6 C1937.2,1405.5 1938.9,1410.3 1941.1,1415.2 C1943.8,1421.3 1946.2,1429.4 1948.3,1436.8 C1950.4,1444.4 1952.0,1452.1 1953.7,1460.2 C1955.6,1468.9 1956.4,1479.4 1959.1,1487.3 C1961.4,1494.0 1964.9,1504.8 1968.1,1505.0 C1971.0,1505.1 1973.6,1494.6 1977.2,1490.9 C1980.4,1487.7 1985.6,1487.5 1988.0,1483.7 C1991.3,1478.5 1990.6,1468.9 1991.6,1460.2 C1992.8,1449.5 1993.6,1437.4 1994.3,1424.2 C1995.2,1408.0 1995.2,1386.3 1996.1,1370.1 C1996.8,1356.9 1997.5,1346.9 1998.8,1334.1 C2000.3,1319.2 2002.9,1286.1 2005.1,1286.0 C2006.8,1286.0 2008.8,1306.2 2010.5,1316.0 C2012.1,1325.3 2013.3,1334.4 2015.0,1343.1 C2016.6,1351.2 2018.2,1359.1 2020.4,1366.5 C2022.5,1373.4 2024.1,1380.7 2027.6,1386.3 C2030.8,1391.4 2037.2,1394.1 2040.2,1399.0 C2043.2,1403.8 2043.5,1410.2 2045.7,1415.2 C2047.8,1419.8 2050.5,1427.8 2052.9,1427.8 C2055.3,1427.8 2057.0,1418.7 2060.1,1415.2 C2063.1,1411.8 2067.8,1406.7 2070.9,1407.0 C2073.7,1407.3 2076.2,1411.3 2078.1,1415.2 C2081.1,1421.3 2081.7,1433.2 2083.5,1442.2 C2085.3,1451.2 2087.1,1460.3 2088.9,1469.3 C2090.7,1478.3 2092.4,1486.7 2094.3,1496.3 C2096.5,1507.4 2098.9,1521.4 2101.5,1532.3 C2103.7,1541.6 2106.4,1558.0 2108.7,1558.0 C2110.6,1558.0 2112.2,1547.0 2114.1,1541.4 C2116.1,1535.5 2118.4,1529.3 2120.5,1523.3" fill="none" stroke="#377EB8" stroke-width="8" stroke-linejoin="round"/>
<line x1="1520.5" y1="89.4" x2="1520.5" y2="1595.5" stroke="#898989" stroke-width="6.8"/>
<line x1="1896.3" y1="84" x2="1896.3" y2="1595.5" stroke="#898989" stroke-width="6.2"/>
<g font-family="'Liberation Serif', 'Times New Roman', serif" font-weight="bold" fill="#000">
<text x="381.5" y="777.5" font-size="74.5" textLength="147.8" lengthAdjust="spacingAndGlyphs">3382</text>
<text x="579.1" y="778.5" font-size="74.5" textLength="148.8" lengthAdjust="spacingAndGlyphs">3075</text>
<text x="735.7" y="630.0" font-size="74.5" textLength="150.2" lengthAdjust="spacingAndGlyphs">2918</text>
<text x="859.1" y="723.4" font-size="74.5" textLength="146.7" lengthAdjust="spacingAndGlyphs">2847</text>
<text x="1562.5" y="226.2" font-size="74.5" textLength="147.6" lengthAdjust="spacingAndGlyphs">1254</text>
<text x="1769.4" y="264.2" font-size="74.5" textLength="112.4" lengthAdjust="spacingAndGlyphs">910</text>
<text x="1866.7" y="798.4" font-size="74.5" textLength="109.8" lengthAdjust="spacingAndGlyphs">853</text>
<text x="1576.8" y="1570.5" font-size="74.5" textLength="148.7" lengthAdjust="spacingAndGlyphs">1590</text>
</g>
<polygon points="494.8,793.9 510.4,838.2 500.3,841.8 531.4,888.1 526.7,832.5 516.6,836.1 501.0,791.7" fill="#000"/>
<polygon points="652.0,790.3 668.2,843.8 657.9,846.9 687.0,894.5 684.7,838.8 674.4,841.9 658.2,788.5" fill="#000"/>
<polygon points="809.7,644.9 794.7,686.5 784.6,682.9 779.4,738.4 810.9,692.4 800.8,688.7 815.9,647.1" fill="#000"/>
<polygon points="872.3,731.6 853.2,756.0 844.7,749.4 822.4,800.5 866.8,766.7 858.3,760.0 877.5,735.6" fill="#000"/>
<polygon points="1645.2,247.5 1671.3,307.1 1661.4,311.4 1695.9,355.3 1687.1,300.2 1677.2,304.5 1651.2,244.9" fill="#000"/>
<polygon points="1836.8,284.2 1864.3,345.8 1854.5,350.2 1889.3,393.8 1880.1,338.8 1870.3,343.2 1842.8,281.6" fill="#000"/>
<polygon points="1928.0,737.0 1928.0,695.0 1938.8,695.0 1924.8,641.0 1910.8,695.0 1921.5,695.0 1921.5,737.0" fill="#000"/>
<polygon points="1584.5,1513.0 1556.6,1486.7 1564.0,1478.9 1515.1,1452.0 1544.8,1499.2 1552.1,1491.4 1580.1,1517.8" fill="#000"/>
<clipPath id="c3"><rect x="1938" y="742" width="40" height="62"/></clipPath>
<path d="M175.0,937.7 C198.9,937.7 225.1,937.2 246.7,937.7 C264.5,938.1 278.3,939.8 295.3,940.0 C314.0,940.2 342.8,940.6 354.2,938.3 C359.1,937.3 359.6,935.8 364.4,934.4 C374.9,931.4 407.7,929.0 415.6,924.2 C418.7,922.3 417.8,919.5 420.7,917.8 C426.4,914.5 441.4,914.7 451.4,912.7 C461.0,910.8 473.3,909.7 479.5,906.3 C483.3,904.2 484.4,899.0 487.2,898.6 C490.0,898.2 493.2,903.7 496.2,903.7 C499.2,903.7 501.5,900.1 505.1,898.6 C509.9,896.6 515.9,894.7 523.0,893.5 C533.1,891.7 552.0,889.6 560.1,891.0 C564.2,891.7 565.4,893.9 569.1,894.8 C574.4,896.0 581.8,895.1 589.5,896.0 C599.8,897.2 619.1,899.1 625.4,902.4 C628.2,903.9 627.6,906.4 630.5,907.6 C637.4,910.6 661.4,911.7 671.4,908.3 C678.3,905.9 682.0,896.7 686.8,896.0 C690.4,895.5 694.5,899.6 697.0,900.0 C698.4,900.2 699.2,900.2 700.5,899.8 C702.3,899.2 704.3,898.2 706.3,896.1 C710.1,892.0 714.5,880.1 718.1,874.2 C720.7,870.0 722.6,865.0 725.4,863.9 C727.6,863.0 730.3,865.8 732.7,865.4 C735.2,865.0 737.7,863.4 740.0,861.0 C743.6,857.3 747.3,849.2 750.3,843.4 C753.1,838.0 755.4,832.8 757.6,827.3 C759.8,821.6 761.9,815.8 763.4,809.8 C764.9,803.6 765.7,797.2 766.4,790.7 C767.2,784.0 767.0,776.5 767.8,770.3 C768.5,765.0 769.5,760.8 770.7,755.6 C772.1,749.7 773.4,737.5 775.9,737.0 C777.7,736.6 780.9,741.4 782.5,745.0 C784.8,750.1 784.9,758.9 786.1,765.9 C787.3,773.1 788.5,780.5 789.8,787.8 C791.2,795.1 792.0,802.6 794.2,809.8 C796.4,817.2 799.9,831.6 803.0,831.7 C805.8,831.8 809.6,819.8 811.7,814.2 C813.5,809.3 813.5,800.5 815.4,800.0 C816.8,799.7 819.2,802.7 820.5,805.4 C822.9,810.3 823.0,820.9 824.2,828.8 C825.4,837.0 826.7,845.7 827.8,853.7 C828.9,861.2 828.6,869.6 830.8,875.6 C832.5,880.4 834.5,884.1 838.1,887.4 C842.3,891.3 848.8,893.9 855.6,896.1 C863.9,898.9 874.9,899.6 884.9,901.3 C895.4,903.1 909.2,903.9 917.1,906.4 C922.1,908.0 923.9,910.5 928.8,912.2 C936.2,914.7 950.2,916.8 958.1,918.1 C963.5,919.0 967.1,918.8 971.7,919.8 C976.5,920.9 981.9,924.9 986.2,924.6 C989.8,924.3 992.1,919.9 995.8,919.8 C1000.6,919.7 1006.8,926.8 1012.7,927.1 C1018.9,927.4 1025.6,923.2 1032.0,921.0 C1038.5,918.8 1045.3,914.5 1051.4,913.8 C1056.5,913.2 1058.4,915.2 1065.8,915.7 C1090.6,917.3 1204.3,915.2 1227.5,915.7 C1233.8,915.8 1235.4,915.4 1239.6,916.2 C1244.2,917.1 1249.7,917.8 1254.0,921.0 C1259.3,925.0 1263.2,940.3 1267.3,940.3 C1270.8,940.3 1273.1,928.5 1277.0,925.8 C1280.1,923.6 1284.6,923.0 1287.8,923.4 C1290.5,923.7 1292.5,927.6 1295.1,927.1 C1299.4,926.2 1303.5,913.2 1309.6,910.2 C1315.6,907.2 1325.4,911.1 1331.3,909.0 C1336.2,907.3 1338.7,902.3 1343.3,900.5 C1348.2,898.5 1354.1,899.4 1360.2,898.1 C1367.6,896.5 1375.4,892.7 1384.4,890.9 C1395.2,888.8 1413.2,893.6 1420.6,887.2 C1427.8,881.0 1427.1,867.1 1429.0,854.1 C1431.6,836.3 1431.0,811.8 1432.0,789.7 C1433.0,766.1 1433.9,739.6 1434.9,716.6 C1435.8,696.0 1436.9,678.6 1437.8,658.0 C1438.8,635.0 1439.8,610.4 1440.7,584.9 C1441.7,557.0 1442.5,522.2 1443.7,497.1 C1444.6,478.2 1445.3,462.7 1446.6,447.3 C1447.8,433.8 1449.4,409.5 1451.0,409.5 C1452.4,409.5 1454.3,426.6 1455.4,438.5 C1457.2,457.3 1457.3,488.7 1458.3,511.7 C1459.2,532.3 1460.5,549.8 1461.2,570.2 C1462.0,592.4 1461.0,621.0 1462.8,640.0 C1464.1,653.3 1466.2,662.6 1468.4,673.8 C1470.6,685.1 1473.3,697.2 1475.8,707.6 C1478.0,716.5 1480.1,724.6 1482.5,732.4 C1484.7,739.5 1487.1,745.7 1489.3,752.6 C1491.6,759.9 1493.8,768.8 1496.0,775.1 C1497.7,779.7 1498.9,783.7 1501.0,787.0 C1502.8,789.9 1505.5,794.4 1507.3,794.3 C1508.9,794.2 1510.2,790.1 1511.5,788.0 C1512.8,786.0 1513.4,783.1 1515.2,781.9 C1517.2,780.6 1521.1,779.6 1523.1,780.8 C1525.6,782.2 1526.0,787.9 1527.6,792.0 C1529.6,797.1 1531.1,805.1 1534.3,808.9 C1536.7,811.8 1540.1,812.6 1543.3,814.6 C1546.8,816.8 1552.0,822.1 1554.6,821.3 C1556.9,820.6 1557.4,814.7 1559.0,812.0 C1560.4,809.6 1561.5,806.5 1563.6,805.6 C1565.7,804.7 1569.4,808.1 1571.5,806.7 C1574.9,804.5 1575.5,794.1 1577.1,786.4 C1579.1,776.6 1579.9,761.3 1581.6,752.6 C1582.7,747.0 1583.6,743.6 1585.0,739.1 C1586.5,734.3 1588.9,729.5 1590.6,724.5 C1592.4,719.3 1593.8,713.8 1595.4,708.6 C1597.0,703.6 1598.5,694.0 1600.1,694.0 C1601.7,694.0 1603.5,703.2 1604.9,708.6 C1606.6,715.2 1607.6,731.0 1608.9,731.0 C1610.3,731.0 1611.5,716.3 1613.0,708.6 C1614.6,700.2 1616.5,682.6 1618.4,682.5 C1620.1,682.4 1622.5,694.5 1623.8,701.9 C1625.5,711.5 1625.5,725.7 1626.5,735.7 C1627.3,743.7 1627.0,752.7 1629.2,757.3 C1630.5,760.0 1632.4,760.9 1634.6,762.7 C1637.2,764.9 1641.7,770.0 1644.1,769.0 C1648.2,767.2 1648.2,746.9 1649.5,735.7 C1650.9,724.5 1650.7,711.2 1652.2,701.9 C1653.2,695.3 1654.9,685.0 1656.2,685.0 C1657.7,685.0 1659.0,700.0 1660.3,708.6 C1661.8,718.8 1662.8,732.2 1664.3,742.4 C1665.6,751.0 1666.9,766.0 1668.4,766.0 C1670.1,766.0 1672.3,746.1 1673.8,735.7 C1675.4,724.8 1676.5,714.1 1677.8,701.9 C1679.3,687.5 1680.7,669.8 1681.9,654.6 C1683.0,640.6 1683.7,627.6 1684.6,614.1 C1685.5,600.6 1686.4,588.7 1687.3,573.5 C1688.5,553.8 1689.6,527.2 1690.8,506.0 C1691.9,487.0 1693.3,470.0 1694.3,452.0 C1695.3,434.0 1695.6,416.0 1696.9,398.0 C1698.2,380.0 1699.9,360.5 1701.9,344.0 C1703.6,330.1 1705.9,305.5 1707.7,305.5 C1709.4,305.5 1711.1,330.1 1712.4,344.0 C1713.9,360.5 1714.7,380.0 1715.7,398.0 C1716.7,416.0 1717.7,434.3 1718.6,452.0 C1719.4,469.2 1720.1,485.6 1720.8,503.0 C1721.5,521.1 1721.8,539.8 1722.7,558.6 C1723.7,577.9 1725.2,597.6 1726.6,617.1 C1728.0,636.6 1729.4,657.6 1730.9,675.7 C1732.2,691.4 1733.0,708.3 1735.1,719.7 C1736.4,727.2 1736.9,735.3 1740.0,738.0 C1742.0,739.8 1745.3,739.0 1748.0,739.0 C1750.7,739.0 1753.9,739.8 1756.0,738.0 C1759.1,735.3 1759.8,727.2 1761.1,719.7 C1763.1,708.3 1763.0,691.4 1764.1,675.7 C1765.4,657.6 1767.1,636.6 1768.4,617.1 C1769.7,597.6 1771.0,577.9 1771.8,558.6 C1772.5,539.8 1772.5,521.1 1773.0,503.0 C1773.5,485.6 1773.7,469.2 1774.6,452.0 C1775.6,434.2 1776.7,416.0 1778.8,398.0 C1780.9,380.0 1784.6,360.6 1787.3,344.0 C1789.6,329.7 1791.8,304.0 1794.0,304.0 C1796.2,304.0 1798.9,329.6 1800.5,344.0 C1802.3,360.6 1802.8,380.0 1803.5,398.0 C1804.2,416.0 1804.1,434.0 1804.8,452.0 C1805.5,470.0 1806.6,491.4 1807.5,506.0 C1808.1,516.0 1808.8,522.3 1809.4,531.4 C1810.0,541.8 1809.9,554.7 1811.0,565.1 C1812.0,574.2 1812.7,583.4 1815.3,590.5 C1817.4,596.2 1821.4,605.4 1823.7,605.0 C1826.9,604.5 1828.6,584.7 1830.5,573.6 C1832.6,561.2 1833.5,534.1 1835.5,534.0 C1837.0,533.9 1839.4,547.9 1840.6,556.7 C1842.3,568.5 1842.0,585.6 1843.1,598.9 C1844.1,610.8 1844.8,623.9 1846.5,632.7 C1847.6,638.5 1849.4,647.1 1850.7,647.0 C1852.6,646.9 1854.5,628.2 1855.8,615.8 C1857.7,597.6 1858.2,570.7 1859.2,548.2 C1860.2,525.7 1860.4,499.6 1861.7,480.7 C1862.6,467.1 1863.8,445.5 1865.1,445.5 C1866.4,445.5 1868.1,467.1 1869.3,480.7 C1870.9,499.5 1871.7,525.7 1872.7,548.2 C1873.7,570.7 1874.0,594.0 1875.2,615.8 C1876.3,636.2 1877.7,657.6 1879.5,674.9 C1880.9,688.4 1882.7,711.0 1884.5,711.0 C1886.5,711.0 1889.0,673.7 1891.3,666.5 C1892.1,664.0 1892.5,663.0 1893.7,661.8 C1895.0,660.5 1897.5,658.4 1898.9,659.2 C1902.4,661.1 1901.1,684.5 1902.8,695.5 C1904.2,704.9 1906.4,721.5 1907.9,721.4 C1910.2,721.3 1911.2,678.6 1913.1,656.6 C1915.1,633.8 1917.3,587.1 1919.6,587.0 C1921.3,587.0 1921.9,612.7 1924.8,622.9 C1927.1,631.0 1931.5,635.5 1933.9,643.7 C1937.1,654.5 1938.2,667.9 1940.3,682.5 C1943.0,701.3 1945.5,725.7 1948.1,747.3 C1950.7,768.9 1952.4,795.5 1955.9,812.1 C1958.1,822.8 1960.6,831.4 1963.7,838.0 C1965.9,842.6 1969.0,849.3 1971.0,849.0 C1973.4,848.6 1974.4,836.4 1976.0,830.0 C1977.7,823.4 1979.3,816.5 1981.0,810.0 C1982.6,803.8 1984.7,798.3 1986.0,792.0 C1987.4,785.1 1988.3,777.9 1989.0,770.0 C1989.8,760.8 1989.7,749.0 1990.0,740.0 C1990.2,732.7 1990.4,727.8 1990.6,720.0 C1990.9,709.0 1991.5,693.3 1991.8,680.0 C1992.1,666.7 1992.2,653.3 1992.4,640.0 C1992.6,626.7 1992.5,614.1 1993.0,600.0 C1993.5,584.0 1994.9,567.7 1995.5,549.0 C1996.2,526.2 1996.0,496.9 1996.3,473.0 C1996.5,451.6 1996.6,432.4 1997.0,412.0 C1997.4,391.4 1998.2,369.6 1998.5,350.0 C1998.8,332.4 1998.8,316.7 1999.0,300.0 C1999.2,283.1 1999.3,266.6 1999.5,249.0 C1999.7,230.0 1999.9,208.4 2000.2,190.0 C2000.5,173.7 2001.0,159.6 2001.3,144.0 C2001.6,127.9 2001.2,108.4 2002.0,95.0 C2002.6,85.6 2003.7,71.0 2004.5,71.0 C2005.3,71.0 2006.2,85.6 2007.0,95.0 C2008.2,108.4 2009.8,127.9 2010.5,144.0 C2011.2,159.6 2011.2,173.7 2011.5,190.0 C2011.9,208.4 2012.3,231.1 2012.5,249.0 C2012.7,263.9 2012.4,275.0 2012.8,290.0 C2013.2,308.3 2014.7,330.7 2015.3,351.0 C2015.9,371.3 2015.5,391.7 2016.2,412.0 C2016.9,432.3 2018.4,452.2 2019.8,473.0 C2021.2,494.8 2023.1,521.2 2024.7,540.0 C2025.9,553.7 2026.9,563.7 2028.3,575.5 C2029.7,587.3 2031.1,599.9 2033.0,611.0 C2034.7,621.0 2036.9,630.2 2038.9,639.4 C2040.8,648.3 2043.2,656.5 2044.8,665.4 C2046.4,674.6 2046.8,684.6 2048.4,693.8 C2050.0,702.7 2052.1,719.7 2054.3,719.8 C2056.4,719.9 2057.7,700.7 2061.4,696.1 C2063.7,693.3 2067.1,691.3 2069.7,691.4 C2072.2,691.5 2075.1,693.4 2076.8,696.1 C2079.6,700.4 2079.2,709.4 2080.3,717.4 C2081.7,727.7 2082.9,741.1 2083.9,752.9 C2084.9,764.7 2085.3,775.7 2086.2,788.4 C2087.2,803.0 2088.5,821.1 2089.8,835.7 C2090.9,848.4 2091.2,860.6 2093.3,871.2 C2095.0,880.0 2098.1,885.9 2100.4,894.9 C2103.3,906.7 2106.3,936.1 2108.7,936.0 C2111.1,935.9 2113.0,908.7 2114.6,894.9 C2116.2,880.9 2116.4,860.9 2118.2,852.3 C2119.0,848.4 2120.1,846.8 2121.0,844.0" fill="none" stroke="#E41A1C" stroke-width="8" stroke-linejoin="round" clip-path="url(#c3)"/>
<rect x="171" y="30" width="1955" height="1579" fill="none" stroke="#000" stroke-width="8"/>
<line x1="171.0" y1="1577" x2="171.0" y2="1606" stroke="#000" stroke-width="8"/>
<line x1="310.6" y1="1593.5" x2="310.6" y2="1606" stroke="#000" stroke-width="8"/>
<line x1="450.3" y1="1577" x2="450.3" y2="1606" stroke="#000" stroke-width="8"/>
<line x1="589.9" y1="1593.5" x2="589.9" y2="1606" stroke="#000" stroke-width="8"/>
<line x1="729.6" y1="1577" x2="729.6" y2="1606" stroke="#000" stroke-width="8"/>
<line x1="869.2" y1="1593.5" x2="869.2" y2="1606" stroke="#000" stroke-width="8"/>
<line x1="1008.9" y1="1577" x2="1008.9" y2="1606" stroke="#000" stroke-width="8"/>
<line x1="1148.5" y1="1593.5" x2="1148.5" y2="1606" stroke="#000" stroke-width="8"/>
<line x1="1288.1" y1="1577" x2="1288.1" y2="1606" stroke="#000" stroke-width="8"/>
<line x1="1427.8" y1="1593.5" x2="1427.8" y2="1606" stroke="#000" stroke-width="8"/>
<line x1="1567.4" y1="1577" x2="1567.4" y2="1606" stroke="#000" stroke-width="8"/>
<line x1="1707.1" y1="1593.5" x2="1707.1" y2="1606" stroke="#000" stroke-width="8"/>
<line x1="1846.7" y1="1577" x2="1846.7" y2="1606" stroke="#000" stroke-width="8"/>
<line x1="1986.4" y1="1593.5" x2="1986.4" y2="1606" stroke="#000" stroke-width="8"/>
<line x1="2126.0" y1="1577" x2="2126.0" y2="1606" stroke="#000" stroke-width="8"/>
<g font-family="'Liberation Serif', 'Times New Roman', serif" font-weight="bold" fill="#000">
<text x="171.0" y="1710.7" font-size="89.5" text-anchor="middle">4000</text>
<text x="450.3" y="1710.7" font-size="89.5" text-anchor="middle">3500</text>
<text x="729.6" y="1710.7" font-size="89.5" text-anchor="middle">3000</text>
<text x="1008.9" y="1710.7" font-size="89.5" text-anchor="middle">2500</text>
<text x="1288.1" y="1710.7" font-size="89.5" text-anchor="middle">2000</text>
<text x="1567.4" y="1710.7" font-size="89.5" text-anchor="middle">1500</text>
<text x="1846.7" y="1710.7" font-size="89.5" text-anchor="middle">1000</text>
<text x="2123.5" y="1710.7" font-size="89.5" text-anchor="middle">500</text>
<line x1="264.4" y1="64.8" x2="264.4" y2="490.8" stroke="#767676" stroke-width="2.9"/>
<line x1="852.5" y1="64.8" x2="852.5" y2="490.8" stroke="#6c6870" stroke-width="2.9"/>
<line x1="265.8" y1="66.1" x2="851" y2="66.1" stroke="#000" stroke-width="2.6"/>
<line x1="262.9" y1="489.4" x2="851" y2="489.4" stroke="#000" stroke-width="2.8"/>
<line x1="273" y1="124" x2="463.5" y2="124" stroke="#E41A1C" stroke-width="8"/>
<text x="481.4" y="152.5" font-size="83.4" textLength="361.9" lengthAdjust="spacingAndGlyphs">PET-GTL</text>
<line x1="273" y1="226.5" x2="463.5" y2="226.5" stroke="#4DAF4A" stroke-width="8"/>
<text x="481.4" y="254.1" font-size="83.4" textLength="351.6" lengthAdjust="spacingAndGlyphs">PET-ETL</text>
<line x1="273" y1="329.8" x2="463.5" y2="329.8" stroke="#984EA3" stroke-width="8"/>
<text x="481.4" y="357.6" font-size="83.4" textLength="158.8" lengthAdjust="spacingAndGlyphs">PET</text>
<line x1="273" y1="431.5" x2="463.5" y2="431.5" stroke="#377EB8" stroke-width="8"/>
<text x="481.4" y="460.0" font-size="83.4" textLength="351.0" lengthAdjust="spacingAndGlyphs">PET-RFL</text>
</g>
<g font-family="'Liberation Serif', 'Times New Roman', serif" font-weight="bold" fill="#000">
<text x="764.6" y="1876.5" font-size="96.5" textLength="709.7" lengthAdjust="spacingAndGlyphs">Wavenumber/cm</text>
<text x="1478.9" y="1838.3" font-size="66" textLength="51.9" lengthAdjust="spacingAndGlyphs">-1</text>
<g transform="translate(100,1239.4) rotate(-90)">
<text x="-0.9" y="0.0" font-size="98" textLength="495.5" lengthAdjust="spacingAndGlyphs">Absorbance</text>
<text x="594.1" y="0.0" font-size="98" textLength="149.1" lengthAdjust="spacingAndGlyphs">a.u.</text>
</g>
</g>
<g transform="translate(100,1239.4) rotate(-90)" font-family="'Noto Serif CJK SC', serif" fill="#000">
<text transform="translate(492.09,-7.32) scale(0.9126,0.7746)" x="0" y="0" font-size="100.0">（</text>
<text transform="translate(750.68,-7.36) scale(1.0350,0.7799)" x="0" y="0" font-size="100.0">）</text>
</g>
</svg>
</body></html>
